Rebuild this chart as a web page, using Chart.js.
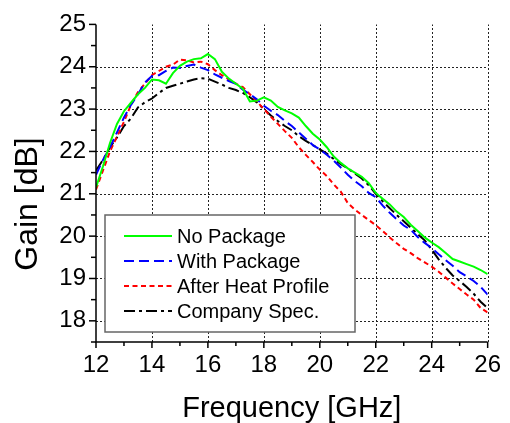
<!DOCTYPE html>
<html>
<head>
<meta charset="utf-8">
<script src="https://cdn.jsdelivr.net/npm/chart.js@4.4.0/dist/chart.umd.min.js"></script>
<style>
  html, body { margin: 0; padding: 0; background: #fff; }
  #wrap { width: 510px; height: 423px; }
</style>
</head>
<body>
<div id="wrap"><canvas id="gainChart" width="510" height="423"></canvas></div>
<script>
// Frequency points (GHz)
const freqGHz = [
  12, 12.25, 12.5, 12.75, 13, 13.25, 13.5, 13.75, 14, 14.25, 14.5, 14.75,
  15, 15.25, 15.5, 15.75, 16, 16.25, 16.5, 16.75, 17, 17.25, 17.5, 17.75,
  18, 18.25, 18.5, 18.75, 19, 19.25, 19.5, 19.75, 20, 20.25, 20.5, 20.75,
  21, 21.25, 21.5, 21.75, 22, 22.25, 22.5, 22.75, 23, 23.25, 23.5, 23.75,
  24, 24.25, 24.5, 24.75, 25, 25.25, 25.5, 25.75, 26
];

// Gain (dB) per series
const noPackage = [
  21.15, 21.65, 22.2, 22.65, 22.95, 23.15, 23.35, 23.5, 23.7, 23.68, 23.6, 23.85,
  24.02, 24.12, 24.18, 24.2, 24.3, 24.18, 23.88, 23.72, 23.6, 23.48, 23.18, 23.2,
  23.28, 23.2, 23.05, 22.97, 22.9, 22.8, 22.6, 22.42, 22.28, 22.1, 21.88, 21.73,
  21.6, 21.5, 21.4, 21.25, 21.02, 20.88, 20.75, 20.58, 20.45, 20.27, 20.12, 19.97,
  19.85, 19.74, 19.6, 19.46, 19.4, 19.34, 19.28, 19.2, 19.1
];
const withPackage = [
  21.45, 21.8, 22.1, 22.45, 22.8, 23.1, 23.35, 23.63, 23.78, 23.8, 23.9, 23.98,
  23.97, 24.02, 24.05, 23.98, 23.92, 23.82, 23.74, 23.66, 23.6, 23.46, 23.35, 23.23,
  23.08, 22.96, 22.86, 22.72, 22.6, 22.45, 22.3, 22.15, 22.05, 21.92, 21.78, 21.62,
  21.45, 21.3, 21.18, 21.02, 20.92, 20.72, 20.55, 20.4, 20.25, 20.15, 19.98, 19.84,
  19.72, 19.57, 19.43, 19.3, 19.15, 19.05, 18.94, 18.8, 18.62
];
const afterHeat = [
  21.1, 21.55, 22.0, 22.35, 22.7, 23.1, 23.4, 23.6, 23.8, 23.9, 24.0, 24.05,
  24.17, 24.15, 24.1, 24.12, 24.06, 23.92, 23.8, 23.7, 23.6, 23.52, 23.35, 23.18,
  23.0, 22.82, 22.65, 22.48, 22.32, 22.1, 21.92, 21.75, 21.57, 21.42, 21.22, 21.05,
  20.78, 20.63, 20.5, 20.38, 20.26, 20.12, 19.97, 19.83, 19.7, 19.6, 19.48, 19.38,
  19.28, 19.16, 19.02, 18.88, 18.75, 18.62, 18.5, 18.3, 18.2
];
const companySpec = [
  21.55, 21.8, 22.1, 22.33, 22.6, 22.78, 23.04, 23.16, 23.25, 23.38, 23.5, 23.55,
  23.6, 23.65, 23.7, 23.73, 23.72, 23.65, 23.58, 23.5, 23.45, 23.38, 23.28, 23.16,
  23.0, 22.85, 22.72, 22.6, 22.5, 22.36, 22.25, 22.15, 22.05, 21.95, 21.82, 21.7,
  21.6, 21.48, 21.36, 21.2, 21.0, 20.82, 20.66, 20.5, 20.35, 20.2, 20.05, 19.9,
  19.68, 19.45, 19.25, 19.07, 18.94, 18.8, 18.64, 18.45, 18.3
];

// Axis ticks
const xTickValues = [12, 14, 16, 18, 20, 22, 24, 26];
const yTickValues = [18, 19, 20, 21, 22, 23, 24, 25];
const xGridValues = [14, 16, 18, 20, 22, 24, 26];
const yGridValues = [18, 19, 20, 21, 22, 23, 24];

const FONT = "'Liberation Sans', Arial, sans-serif";

const toPoints = (ys) => ys.map((y, i) => ({ x: freqGHz[i], y: y }));

// Draws the dotted grid, axis lines, major/minor ticks, y title and legend box
const decorPlugin = {
  id: 'decor',
  beforeDatasetsDraw(chart) {
    const { ctx, chartArea: a, scales: { x, y } } = chart;
    ctx.save();
    ctx.strokeStyle = '#222';
    ctx.lineWidth = 1;
    ctx.setLineDash([2, 2]);
    xGridValues.forEach(v => {
      const px = Math.round(x.getPixelForValue(v)) + 0.5;
      ctx.beginPath();
      ctx.moveTo(px, a.bottom);
      ctx.lineTo(px, a.top);
      ctx.stroke();
    });
    yGridValues.forEach(v => {
      const py = Math.round(y.getPixelForValue(v)) + 0.5;
      ctx.beginPath();
      ctx.moveTo(a.left, py);
      ctx.lineTo(a.right, py);
      ctx.stroke();
    });
    ctx.restore();
  },
  afterDatasetsDraw(chart) {
    const { ctx, chartArea: a, scales: { x, y } } = chart;
    ctx.save();
    ctx.strokeStyle = '#000';
    ctx.setLineDash([]);
    ctx.lineWidth = 1.5;

    // axis lines
    ctx.beginPath();
    ctx.moveTo(a.left, a.top);
    ctx.lineTo(a.left, a.bottom);
    ctx.lineTo(a.right, a.bottom);
    ctx.stroke();

    // x ticks: major every 2 GHz, minor in between
    for (let v = 12; v <= 26; v++) {
      const px = x.getPixelForValue(v);
      const len = v % 2 === 0 ? 6 : 4;
      ctx.beginPath();
      ctx.moveTo(px, a.bottom);
      ctx.lineTo(px, a.bottom + len);
      ctx.stroke();
    }
    // y ticks: major every 1 dB, minor every 0.5 dB
    for (let v = 17.5; v <= 25; v += 0.5) {
      const py = y.getPixelForValue(v);
      const len = Number.isInteger(v) ? 7 : 5;
      ctx.beginPath();
      ctx.moveTo(a.left, py);
      ctx.lineTo(a.left - len, py);
      ctx.stroke();
    }

    // y axis title
    ctx.fillStyle = '#000';
    ctx.font = '32px ' + FONT;
    ctx.textAlign = 'center';
    ctx.textBaseline = 'middle';
    ctx.translate(28, 204);
    ctx.rotate(-Math.PI / 2);
    ctx.fillText('Gain [dB]', 0, 0);
    ctx.restore();

    // legend
    ctx.save();
    const box = { x: 105, y: 215, w: 250, h: 117 };
    ctx.fillStyle = '#fff';
    ctx.fillRect(box.x, box.y, box.w, box.h);
    ctx.strokeStyle = '#666';
    ctx.lineWidth = 1.5;
    ctx.strokeRect(box.x, box.y, box.w, box.h);
    ctx.font = '20px ' + FONT;
    ctx.textAlign = 'left';
    ctx.textBaseline = 'middle';
    chart.data.datasets.forEach((ds, i) => {
      const rowY = 236 + i * 25;
      ctx.strokeStyle = ds.borderColor;
      ctx.lineWidth = ds.borderWidth;
      ctx.setLineDash(ds.borderDash || []);
      ctx.beginPath();
      ctx.moveTo(124, rowY);
      ctx.lineTo(172, rowY);
      ctx.stroke();
      ctx.fillStyle = '#000';
      ctx.fillText(ds.label, 177, rowY + 1);
    });
    ctx.restore();
  }
};

const ctx = document.getElementById('gainChart');

new Chart(ctx, {
  type: 'line',
  data: {
    datasets: [
      { label: 'No Package', data: toPoints(noPackage), borderColor: '#00ff00', borderWidth: 2, borderDash: [] },
      { label: 'With Package', data: toPoints(withPackage), borderColor: '#0000ff', borderWidth: 2, borderDash: [10, 5] },
      { label: 'After Heat Profile', data: toPoints(afterHeat), borderColor: '#ff0000', borderWidth: 2, borderDash: [5, 3.5] },
      { label: 'Company Spec.', data: toPoints(companySpec), borderColor: '#000000', borderWidth: 2, borderDash: [11, 4, 3, 4] }
    ]
  },
  options: {
    responsive: false,
    animation: false,
    layout: { padding: { top: 21, right: 14, left: 0, bottom: 0 } },
    elements: {
      point: { radius: 0 },
      line: { tension: 0, fill: false }
    },
    plugins: {
      legend: { display: false },
      tooltip: { enabled: false },
      title: { display: false }
    },
    scales: {
      x: {
        type: 'linear',
        min: 12,
        max: 26,
        afterBuildTicks: (scale) => { scale.ticks = xTickValues.map(v => ({ value: v })); },
        afterFit: (scale) => { scale.height = 81; },
        grid: { display: false, drawTicks: false },
        border: { display: false },
        ticks: {
          color: '#000',
          padding: 9,
          maxRotation: 0,
          font: { family: FONT, size: 24 }
        },
        title: {
          display: true,
          text: 'Frequency [GHz]',
          color: '#000',
          padding: { top: 0, bottom: 0 },
          font: { family: FONT, size: 29, lineHeight: 1 }
        }
      },
      y: {
        min: 17.5,
        max: 25,
        afterBuildTicks: (scale) => { scale.ticks = yTickValues.map(v => ({ value: v })); },
        afterFit: (scale) => { scale.width = 96; },
        grid: { display: false, drawTicks: false },
        border: { display: false },
        ticks: {
          color: '#000',
          padding: 10,
          font: { family: FONT, size: 24 }
        }
      }
    }
  },
  plugins: [decorPlugin]
});
</script>
</body>
</html>
